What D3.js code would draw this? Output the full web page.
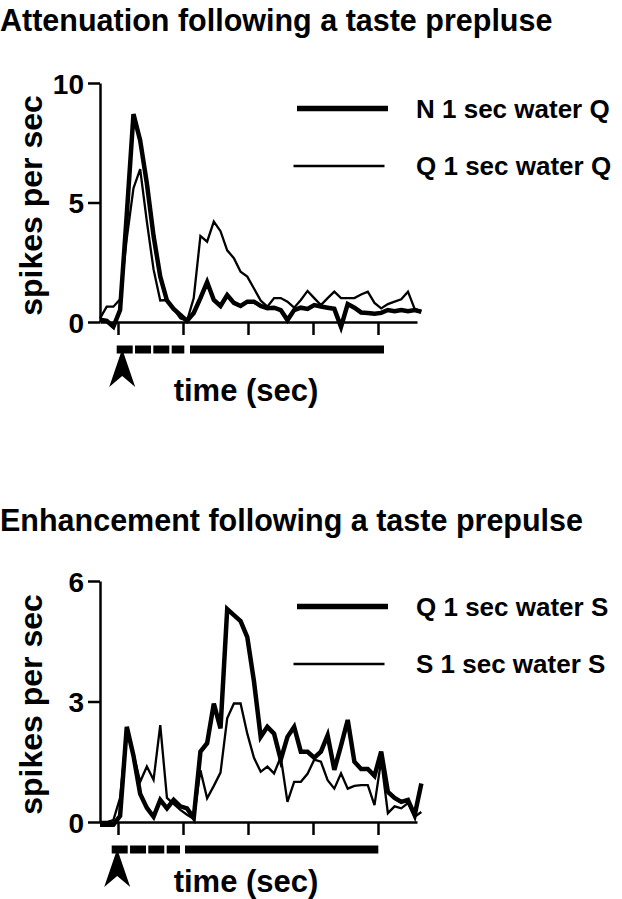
<!DOCTYPE html>
<html>
<head>
<meta charset="utf-8">
<script src="https://cdn.jsdelivr.net/npm/d3@7"></script>
<style>
  body { margin: 0; background: #fff; }
  text { font-family: "Liberation Sans", Arial, Helvetica, sans-serif; font-weight: bold; fill: #000; }
</style>
</head>
<body>
<svg id="fig" width="622" height="899"></svg>
<script>
// time bins (sec), relative to prepulse onset
const binSec = 0.103
const firstBinSec = -0.277
const xTicks = [0, 1, 2, 3, 4]

// --- top panel ---
const attenTitle = "Attenuation following a taste prepluse"
const attenLabels = ["N 1 sec water Q", "Q 1 sec water Q"]
const attenYTicks = [0, 5, 10]
const attenNQ = [0.1, 0.05, -0.2, 0.5, 4.5, 8.7, 7.6, 5.8, 3.6, 1.9, 0.9, 0.55, 0.3, 0.05,
  0.38, 1.0, 1.67, 0.92, 0.67, 1.13, 0.8, 0.67, 0.85, 0.85, 0.67, 0.58, 0.6, 0.5, 0.08,
  0.5, 0.6, 0.55, 0.71, 0.65, 0.6, 0.55, -0.2, 0.75, 0.6, 0.4, 0.38, 0.35, 0.38, 0.5,
  0.45, 0.5, 0.45, 0.5, 0.43]
const attenQQ = [0.15, 0.64, 0.64, 0.95, 3.5, 5.6, 6.4, 4.2, 2.2, 0.9, 0.92, 0.55, 0.15, 0.05,
  1.0, 3.6, 3.36, 4.2, 3.8, 3.0, 2.67, 2.1, 1.9, 1.4, 0.9, 0.64, 1.0, 1.0, 0.85, 0.6,
  0.92, 1.3, 1.0, 0.71, 1.0, 1.27, 1.0, 1.0, 1.0, 1.15, 1.27, 0.8, 0.57, 0.75, 0.85,
  0.95, 1.27, 0.55, 0.45]
// stimulus bar: [start, end] sec
const attenStim = [[-0.02, 0.226], [0.262, 0.508], [0.543, 0.789], [0.826, 1.02], [1.108, 4.092]]

// --- bottom panel ---
const enhTitle = "Enhancement following a taste prepulse"
const enhLabels = ["Q 1 sec water S", "S 1 sec water S"]
const enhYTicks = [0, 3, 6]
const enhQS = [-0.07, -0.07, -0.07, 0.15, 2.37, 1.65, 0.7, 0.35, 0.13, 0.55, 0.34, 0.55, 0.39,
  0.34, 0.1, 1.75, 1.96, 2.95, 2.33, 5.3, 5.15, 5.0, 4.6, 3.5, 2.12, 2.37, 2.2, 1.55, 2.12,
  2.37, 1.75, 1.75, 1.6, 1.75, 2.16, 1.3, 1.9, 2.54, 1.5, 1.32, 1.32, 1.15, 1.75, 0.75,
  0.6, 0.5, 0.55, 0.17, 0.96]
const enhSS = [0, 0, 0.05, 0.6, 2.3, 1.7, 1.0, 1.38, 1.05, 2.41, 0.6, 0.45, 0.3, 0.18, 0.08,
  1.29, 0.59, 0.9, 1.23, 2.58, 2.95, 2.95, 2.2, 1.6, 1.25, 1.38, 1.21, 1.62, 0.5, 1.0, 1.0,
  1.2, 1.55, 1.5, 1.04, 0.83, 1.21, 0.83, 0.9, 0.92, 0.92, 0.42, 1.54, 0.22, 0.39, 0.34,
  0.47, 0.13, 0.25]
const enhStim = [[-0.097, 0.149], [0.185, 0.431], [0.466, 0.712], [0.749, 0.954], [1.031, 4.005]]

const panels = [
  { title: attenTitle, labels: attenLabels, yTicks: attenYTicks, thick: attenNQ, thin: attenQQ,
    stim: attenStim, titleY: 31, top: 83, bottom: 322, xLabelDy: 79 },
  { title: enhTitle, labels: enhLabels, yTicks: enhYTicks, thick: enhQS, thin: enhSS,
    stim: enhStim, titleY: 531, top: 581, bottom: 822, xLabelDy: 70 }
]

const svg = d3.select("#fig")

const x = d3.scaleLinear()
  .domain([-0.277, 4.6])
  .range([100, 417])

panels.forEach(p => {
  const g = svg.append("g")

  const y = d3.scaleLinear()
    .domain([0, d3.max(p.yTicks)])
    .range([p.bottom, p.top])

  g.append("text")
    .attr("x", 0)
    .attr("y", p.titleY)
    .style("font-size", "30.5px")
    .text(p.title)

  // axes
  const xAxis = g.append("g")
    .attr("transform", `translate(0,${p.bottom})`)
    .call(d3.axisBottom(x).tickValues(xTicks).tickSize(13).tickSizeOuter(0).tickFormat(""))
  const yAxis = g.append("g")
    .attr("transform", "translate(100,0)")
    .call(d3.axisLeft(y).tickValues(p.yTicks).tickSize(12).tickSizeOuter(0).tickPadding(4)
      .tickFormat(d3.format("d")))
  ;[xAxis, yAxis].forEach(a => {
    a.select(".domain").attr("stroke-width", 2.5)
    a.selectAll(".tick line").attr("stroke-width", 2.5)
  })
  yAxis.selectAll(".tick text")
    .style("font-size", "28px")
    .style("font-family", "'Liberation Sans', Arial, sans-serif")
    .style("font-weight", "bold")
    .attr("dy", "0.36em")

  g.append("text")
    .attr("transform", `translate(42,${(p.top + p.bottom) / 2 + 3}) rotate(-90)`)
    .attr("text-anchor", "middle")
    .style("font-size", "32px")
    .text("spikes per sec")

  // traces
  const line = d3.line()
    .x((d, i) => x(firstBinSec + i * binSec))
    .y(d => y(d))

  g.append("path")
    .datum(p.thin)
    .attr("fill", "none")
    .attr("stroke", "#000")
    .attr("stroke-width", 2.3)
    .attr("stroke-linejoin", "miter")
    .attr("d", line)

  g.append("path")
    .datum(p.thick)
    .attr("fill", "none")
    .attr("stroke", "#000")
    .attr("stroke-width", 4.5)
    .attr("stroke-linejoin", "miter")
    .attr("d", line)

  // legend
  const leg = g.append("g")
  ;[{ w: 5.5, dx: 0 }, { w: 2.3, dx: -3.5 }].forEach((s, i) => {
    const ly = p.top + 25.5 + i * 57.5
    leg.append("line")
      .attr("x1", 297 + s.dx).attr("x2", 388 + s.dx)
      .attr("y1", ly).attr("y2", ly)
      .attr("stroke", "#000")
      .attr("stroke-width", s.w)
    leg.append("text")
      .attr("x", 416)
      .attr("y", ly + 9)
      .style("font-size", "26px")
      .text(p.labels[i])
  })

  // stimulus bar + onset arrow
  g.selectAll(".stim")
    .data(p.stim)
    .join("rect")
    .attr("class", "stim")
    .attr("x", d => x(d[0]))
    .attr("width", d => x(d[1]) - x(d[0]))
    .attr("y", p.bottom + 23.5)
    .attr("height", 8)
    .attr("fill", "#000")

  const ax = x(p.stim[0][0]) + 5.5
  const ay = p.bottom + 27
  g.append("path")
    .attr("d", `M${ax},${ay} L${ax + 13},${ay + 38} L${ax},${ay + 27} L${ax - 13},${ay + 38} Z`)
    .attr("fill", "#000")

  g.append("text")
    .attr("x", 246)
    .attr("y", p.bottom + p.xLabelDy)
    .attr("text-anchor", "middle")
    .style("font-size", "31px")
    .text("time (sec)")
})
</script>
</body>
</html>
